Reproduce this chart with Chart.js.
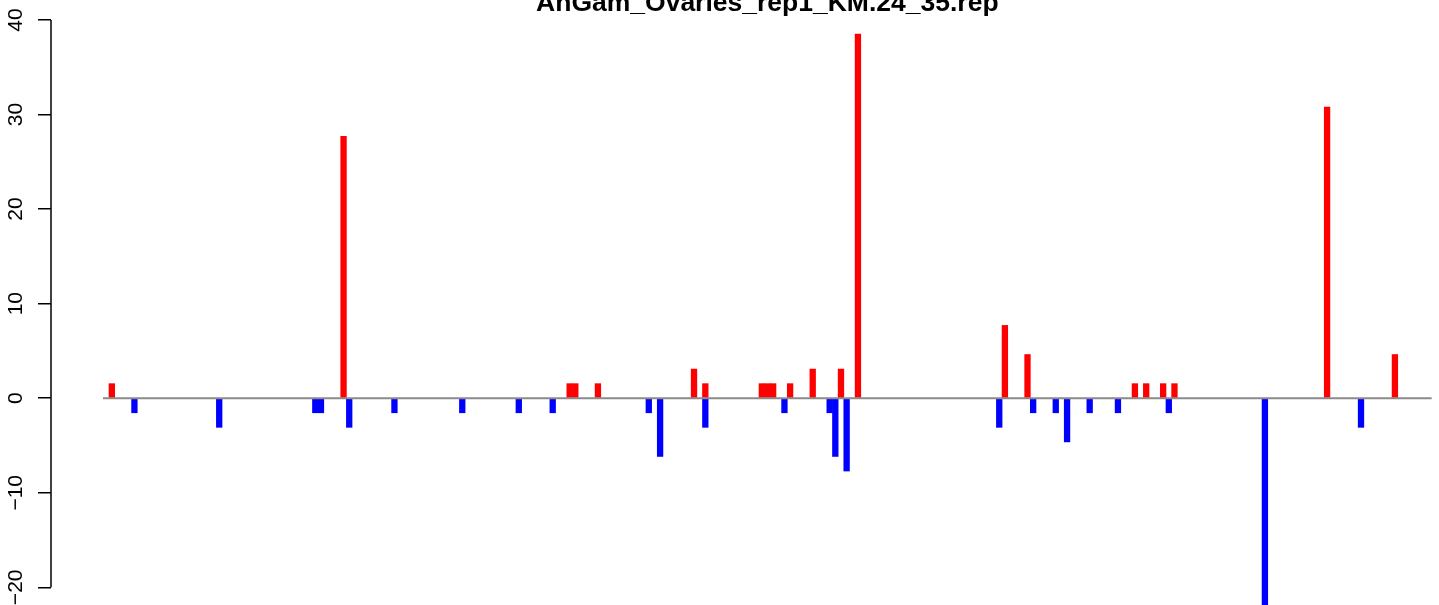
<!DOCTYPE html>
<html>
<head>
<meta charset="utf-8">
<script src="https://cdn.jsdelivr.net/npm/chart.js@4.4.1/dist/chart.umd.min.js"></script>
<style>
  html,body{margin:0;padding:0;background:#fff;}
  #wrap{width:1439px;height:605px;}
</style>
</head>
<body>
<div id="wrap"><canvas id="chart" width="1439" height="605"></canvas></div>
<script>
  const TITLE = 'AnGam_Ovaries_rep1_KM.24_35.rep';

  // slot index along the barplot + bar height (red = up, blue = down)
  const redPos = [0, 41, 81, 82, 86, 103, 105, 115, 116, 117, 120, 124, 129, 132, 158, 162, 181, 183, 186, 188, 215, 227];
  const redVal = [1.54, 27.7, 1.54, 1.54, 1.54, 3.08, 1.54, 1.54, 1.54, 1.54, 1.54, 3.08, 3.08, 38.5, 7.7, 4.62, 1.54, 1.54, 1.54, 1.54, 30.8, 4.62];
  const bluePos = [4, 19, 36, 37, 42, 50, 62, 72, 78, 95, 97, 105, 119, 127, 128, 130, 157, 163, 167, 169, 173, 178, 187, 204, 221];
  const blueVal = [-1.54, -3.08, -1.54, -1.54, -3.08, -1.54, -1.54, -1.54, -1.54, -1.54, -6.16, -3.08, -1.54, -1.54, -6.16, -7.7, -3.08, -1.54, -1.54, -4.62, -1.54, -1.54, -1.54, -23.1, -3.08];

  const yTicks = [-20, -10, 0, 10, 20, 30, 40];
  const baseX = [-1.56, 233.5];   // extent of the zero line
  const xRange = [-10.76, 234.8];
  const yRange = [-21.87, 40];

  const FONT = '"Liberation Sans", Arial, Helvetica, sans-serif';
  const toPts = (pos, val) => pos.map((p, i) => ({ x: p, y: val[i] }));

  // R style axis line: only from first to last tick
  const axisLine = {
    id: 'axisLine',
    afterDraw(chart){
      const s = chart.scales.y, ctx = chart.ctx;
      ctx.save();
      ctx.strokeStyle = '#000'; ctx.lineWidth = 1.5;
      ctx.beginPath();
      ctx.moveTo(s.right, s.getPixelForValue(yTicks[0]));
      ctx.lineTo(s.right, s.getPixelForValue(yTicks[yTicks.length - 1]));
      ctx.stroke();
      ctx.restore();
    }
  };

  // title centred over the plot region, clipped at the top like the original
  const rTitle = {
    id: 'rTitle',
    afterDraw(chart){
      const x = chart.scales.x, ctx = chart.ctx;
      const cx = (x.getPixelForValue(baseX[0]) + x.getPixelForValue(baseX[1])) / 2;
      ctx.save();
      ctx.font = 'bold 26.5px ' + FONT;
      ctx.fillStyle = '#000';
      ctx.textAlign = 'center';
      ctx.textBaseline = 'alphabetic';
      ctx.fillText(TITLE, cx, 11);
      ctx.restore();
    }
  };

  new Chart(document.getElementById('chart').getContext('2d'), {
    type: 'bar',
    data: {
      datasets: [
        { type: 'line', data: baseX.map(x => ({ x, y: 0 })), borderColor: '#8a8a8a', borderWidth: 2,
          pointRadius: 0, stack: 'base', order: 0 },
        { data: toPts(redPos, redVal), backgroundColor: '#ff0000', borderWidth: 0,
          barPercentage: 1, categoryPercentage: 1, stack: 'reads', order: 1 },
        { data: toPts(bluePos, blueVal), backgroundColor: '#0000ff', borderWidth: 0,
          barPercentage: 1, categoryPercentage: 1, stack: 'reads', order: 2 }
      ]
    },
    options: {
      responsive: false,
      animation: false,
      devicePixelRatio: 1,
      layout: { padding: { top: 20, left: 0, right: 0, bottom: 0 } },
      plugins: { legend: { display: false }, tooltip: { enabled: false }, title: { display: false } },
      scales: {
        x: { type: 'linear', min: xRange[0], max: xRange[1], stacked: true, offset: false, display: false },
        y: {
          stacked: true, min: yRange[0], max: yRange[1], position: 'left',
          afterBuildTicks(s){ s.ticks = yTicks.map(v => ({ value: v })); },
          afterFit(s){ s.width = 51; s.paddingTop = 0; s.paddingBottom = 0; },
          border: { display: false },
          grid: { drawOnChartArea: false, drawTicks: true, tickLength: 13, color: '#000', lineWidth: 1.5 },
          ticks: {
            minRotation: 90, maxRotation: 90, crossAlign: 'center', padding: 4,
            color: '#000', font: { family: FONT, size: 21 },
            callback: v => String(v).replace('-', '\u2212')
          }
        }
      }
    },
    plugins: [axisLine, rTitle]
  });
</script>
</body>
</html>
